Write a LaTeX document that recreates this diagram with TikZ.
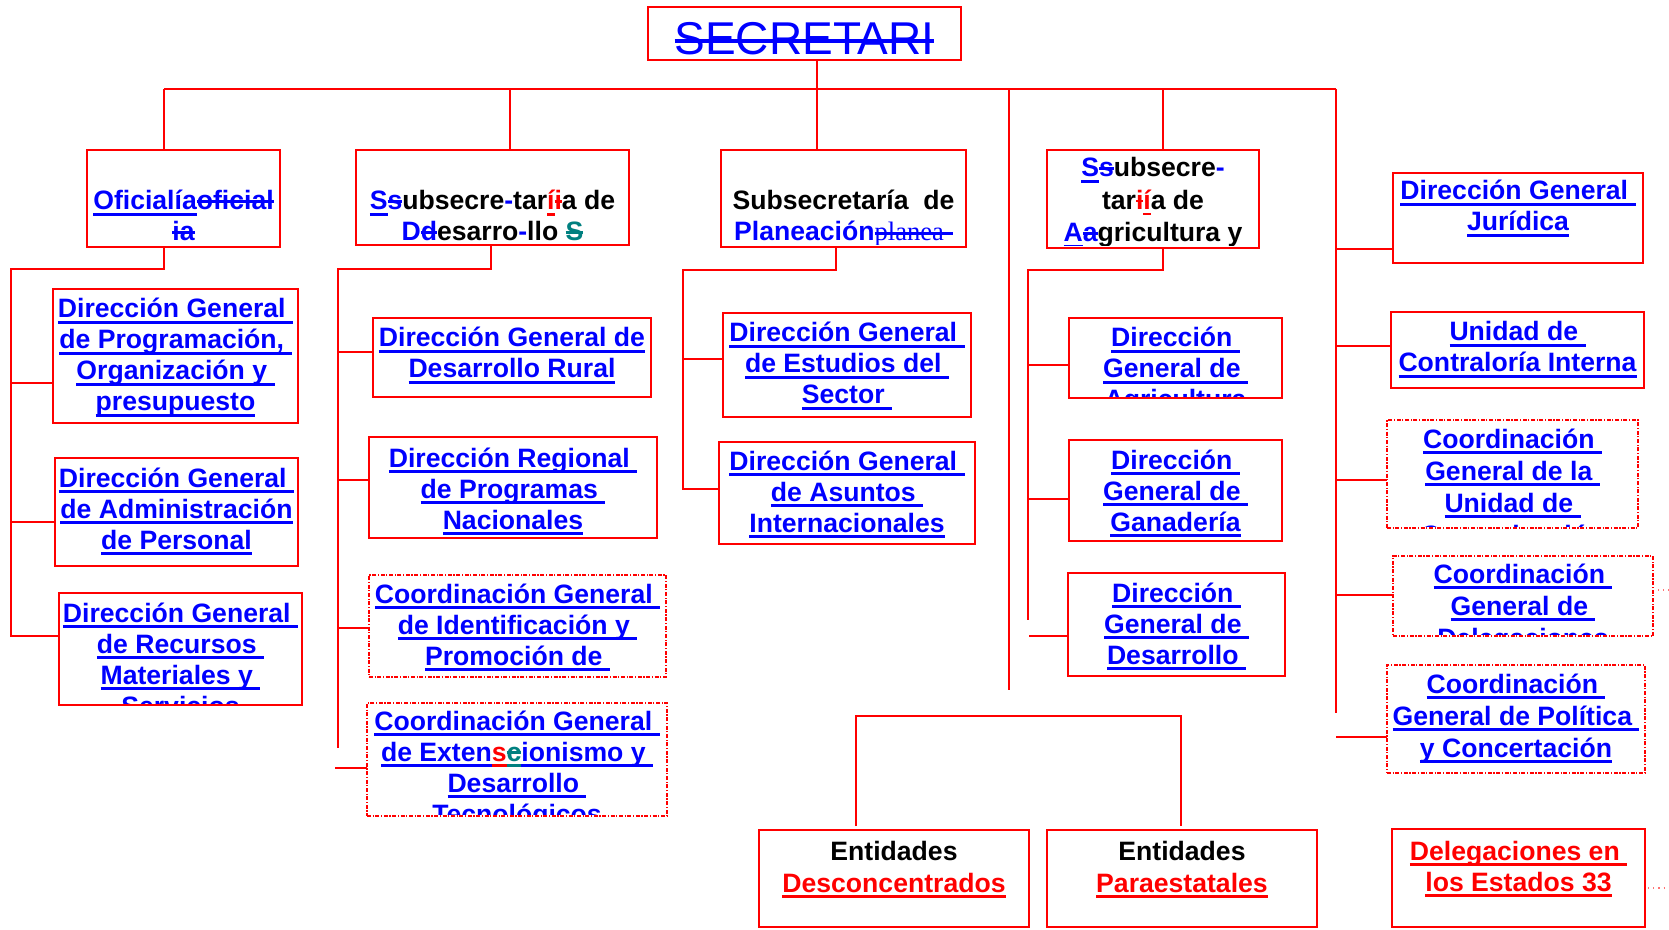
\documentclass[tikz,border=0pt]{standalone}
\usepackage{fontspec}
\setmainfont{Liberation Sans}
\newfontfamily\serifx{Liberation Serif}
\usetikzlibrary{fit}
\definecolor{tealx}{RGB}{0,128,128}
\newsavebox\ulbox
\newcommand\ULw{1.4pt}
\newcommand\UL[1]{\leavevmode{\sbox\ulbox{#1}\rlap{\rule[-3pt]{\wd\ulbox}{\ULw}}\usebox\ulbox}}
\newcommand\SO[1]{\leavevmode{\sbox\ulbox{#1}\rlap{\rule[.5ex]{\wd\ulbox}{\ULw}}\usebox\ulbox}}
\newcommand\U[1]{\UL{#1}}
\tikzset{
  boxline/.style={draw=red, line width=0.9pt, inner sep=0pt, outer sep=0pt},
  dotbox/.style={draw=red, line width=0.9pt, inner sep=0pt, outer sep=0pt, dash pattern=on 2pt off 0.8pt on 0.6pt off 0.8pt},
  txt/.style={inner sep=0pt, text=blue, font=\fontsize{13.3}{15.5}\selectfont\bfseries},
  conn/.style={draw=red, line width=1.25pt},
  stub/.style={draw=red!55, line width=0.6pt, dotted}
}
\newcommand\obox[8][boxline]{%
  \node[#1, fit={(#3,#4)(#5,#6)}] (#2) {};
  \begin{scope}
    \clip (#3+2,#4+2) rectangle (#5-2,#6-2);
    \node[txt, anchor=base] (#2-t) at ({(#3+#5)/2},#7) {\parbox[t]{300pt}{\centering\leavevmode #8}};
  \end{scope}
}
\begin{document}
\begin{tikzpicture}[x=0.5pt,y=-0.5pt]
\useasboundingbox (0,0) rectangle (1669,930);
% top
\node[boxline, fit={(648,7)(961,60)}] (sec) {};
\node[inner sep=0pt, anchor=base, text=blue, font=\fontsize{23}{27}\selectfont] (sec-t) at (804.5,55) {\renewcommand\ULw{1.7pt}\SO{SECRETARI}};
% level 1
\obox{ofi}{87}{150}{280}{247}{210}{\textcolor{blue}{\UL{Oficialía}\SO{oficial}}\\\textcolor{blue}{\SO{ia}}}
\obox{dsr}{356}{150}{629}{245}{210}{\color{black}\textcolor{blue}{\UL{S}\SO{s}}ubsecre\textcolor{blue}{-}tar\textcolor{red}{\UL{í}\SO{i}}a de\\\textcolor{blue}{D\SO{d}}esarro\textcolor{blue}{-}llo \textcolor{tealx}{\SO{S}}}
\obox{pla}{721}{150}{966}{247}{210}{\color{black}Subsecretaría\ \ de\\\textcolor{blue}{Planeación{\serifx\mdseries\SO{planea-}}}}
\obox{agr}{1047}{150}{1259}{248}{177}{\fontsize{13.3}{16.2}\selectfont\color{black}\textcolor{blue}{\UL{S}\SO{s}}ubsecre\textcolor{blue}{-}\\tar\textcolor{red}{\SO{i}\UL{í}}a de\\\textcolor{blue}{\UL{A}\SO{a}}gricultura y}
% left column
\obox{prog}{53}{289}{298}{423}{318}{\U{Dirección General~}\\\U{de Programación,~}\\\U{Organización y~}\\\U{presupuesto}}
\obox{adm}{55}{458}{298}{566}{487}{\U{Dirección General~}\\\U{de Administración}\\\U{de Personal}}
\obox{rec}{59}{593}{302}{705}{622}{\U{Dirección General~}\\\U{de Recursos~}\\\U{Materiales y~}\\\U{Servicios}}
% desarrollo column
\obox{rur}{373}{318}{651}{397}{347}{\U{Dirección General de}\\\U{Desarrollo Rural}}
\obox{reg}{369}{437}{657}{538}{467}{\U{Dirección Regional~}\\\U{de Programas~}\\\U{Nacionales}}
\obox[dotbox]{ide}{369}{575}{666}{677}{603}{\U{Coordinación General~}\\\U{de Identificación y~}\\\U{Promoción de~}}
\obox[dotbox]{ext}{367}{703}{667}{816}{730}{\U{Coordinación General~}\\\UL{de Exten}\textcolor{red}{\UL{s}}\textcolor{tealx}{\UL{\SO{c}}}\UL{ionismo y~}\\\U{Desarrollo~}\\\U{Tecnológicos}}
% planeacion column
\obox{est}{723}{313}{971}{417}{342}{\U{Dirección General~}\\\U{de Estudios del~}\\\U{Sector~}}
\obox{asu}{719}{442}{975}{544}{470}{\U{Dirección General~}\\\U{de Asuntos~}\\\U{Internacionales}}
% agricultura column
\obox{dga}{1069}{318}{1282}{398}{347}{\U{Dirección~}\\\U{General de~}\\\U{Agricultura}}
\obox{gan}{1069}{440}{1282}{541}{469}{\U{Dirección~}\\\U{General de~}\\\U{Ganadería}}
\obox{dgd}{1068}{573}{1285}{676}{602}{\U{Dirección~}\\\U{General de~}\\\U{Desarrollo~}}
% right column
\obox{jur}{1393}{173}{1643}{263}{200}{\U{Dirección General~}\\\U{Jurídica}}
\obox{con}{1391}{312}{1644}{388}{341}{\U{Unidad de~}\\\U{Contraloría Interna}}
\obox[dotbox]{com}{1387}{420}{1638}{528}{448}{\fontsize{13.3}{16}\selectfont\U{Coordinación~}\\\U{General de la~}\\\U{Unidad de~}\\\U{Comunicación}}
\obox[dotbox]{del}{1393}{556}{1653}{636}{583}{\fontsize{13.3}{16}\selectfont\U{Coordinación~}\\\U{General de~}\\\U{Delegaciones}}
\obox[dotbox]{pol}{1387}{665}{1645}{773}{693}{\fontsize{13.3}{16}\selectfont\U{Coordinación~}\\\U{General de Política~}\\\U{y Concertación}}
% bottom
\obox{ent1}{759}{830}{1029}{927}{860}{\fontsize{13.3}{16}\selectfont\color{black}Entidades\\\textcolor{red}{\U{Desconcentrados}}}
\obox{ent2}{1047}{830}{1317}{927}{860}{\fontsize{13.3}{16}\selectfont\color{black}Entidades\\\textcolor{red}{\U{Paraestatales}}}
\obox{dele}{1392}{829}{1645}{927}{860}{\color{red}\U{Delegaciones en~}\\\U{los Estados 33}}
% bus
\coordinate (bl) at (164,89);
\coordinate (br) at (1336,89);
\coordinate (bm) at (817,89);
\coordinate (b2) at (510,89);
\coordinate (b4) at (1009,89);
\coordinate (b4e) at (1009,690);
\coordinate (b5) at (1163,89);
\coordinate (bre) at (1336,713);
\draw[conn] (bm |- sec.south) -- (bm);
\draw[conn] (bl) -- (br);
\draw[conn] (bl) -- (bl |- ofi.north);
\draw[conn] (b2) -- (b2 |- dsr.north);
\draw[conn] (bm) -- (bm |- pla.north);
\draw[conn] (b4) -- (b4e);
\draw[conn] (b5) -- (b5 |- agr.north);
\draw[conn] (br) -- (bre);
% left group
\coordinate (l0) at (164,269);
\coordinate (l1) at (11,269);
\coordinate (l2) at (11,636);
\coordinate (lp) at (11,383);
\coordinate (la) at (11,522);
\draw[conn] (l0 |- ofi.south) -- (l0) -- (l1) -- (l2) -- (l2 -| rec.west);
\draw[conn] (lp) -- (lp -| prog.west);
\draw[conn] (la) -- (la -| adm.west);
% desarrollo group
\coordinate (d0) at (491,269);
\coordinate (d1) at (338,269);
\coordinate (d2) at (338,748);
\coordinate (dr) at (338,352);
\coordinate (dg) at (338,480);
\coordinate (di) at (338,628);
\coordinate (de) at (335,768);
\draw[conn] (d0 |- dsr.south) -- (d0) -- (d1) -- (d2);
\draw[conn] (dr) -- (dr -| rur.west);
\draw[conn] (dg) -- (dg -| reg.west);
\draw[conn] (di) -- (di -| ide.west);
\draw[conn] (de) -- (de -| ext.west);
% planeacion group
\coordinate (p0) at (836,270);
\coordinate (p1) at (683,270);
\coordinate (p2) at (683,489);
\coordinate (pe) at (683,359);
\draw[conn] (p0 |- pla.south) -- (p0) -- (p1) -- (p2) -- (p2 -| asu.west);
\draw[conn] (pe) -- (pe -| est.west);
% agricultura group
\coordinate (a0) at (1163,270);
\coordinate (a1) at (1028,270);
\coordinate (a2) at (1028,620);
\coordinate (aa) at (1028,365);
\coordinate (ag) at (1028,499);
\coordinate (ad) at (1029,636);
\draw[conn] (a0 |- agr.south) -- (a0) -- (a1) -- (a2);
\draw[conn] (aa) -- (aa -| dga.west);
\draw[conn] (ag) -- (ag -| gan.west);
\draw[conn] (ad) -- (ad -| dgd.west);
% right group
\coordinate (rj) at (1336,249);
\coordinate (rc) at (1336,346);
\coordinate (rm) at (1336,480);
\coordinate (rd) at (1336,595);
\coordinate (rp) at (1336,737);
\draw[conn] (rj) -- (rj -| jur.west);
\draw[conn] (rc) -- (rc -| con.west);
\draw[conn] (rm) -- (rm -| com.west);
\draw[conn] (rd) -- (rd -| del.west);
\draw[conn] (rp) -- (rp -| pol.west);
% bracket
\coordinate (k1) at (856,826);
\coordinate (k2) at (856,716);
\coordinate (k3) at (1181,716);
\coordinate (k4) at (1181,826);
\draw[conn, line width=1pt] (k1) -- (k2) -- (k3) -- (k4);
% stubs
\coordinate (s1) at (1658,590);
\coordinate (s2) at (1669,590);
\coordinate (s3) at (1648,888);
\coordinate (s4) at (1669,888);
\draw[stub] (s1) -- (s2);
\draw[stub] (s3) -- (s4);
\end{tikzpicture}
\end{document}
